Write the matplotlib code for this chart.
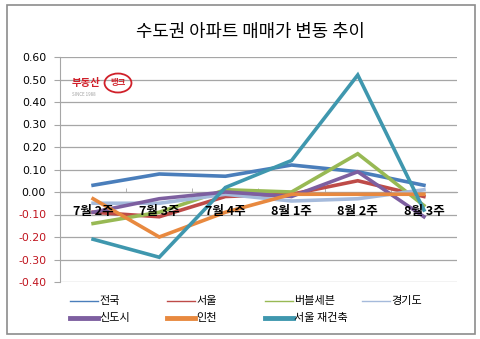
import numpy as np
import matplotlib
matplotlib.use("Agg")
import matplotlib.pyplot as plt
from matplotlib.lines import Line2D
from matplotlib.patches import Rectangle, Circle

plt.rcParams['font.family'] = ['Noto Sans CJK KR', 'DejaVu Sans']

weeks = ["7월 2주", "7월 3주", "7월 4주", "8월 1주", "8월 2주", "8월 3주"]
series_names = ["전국", "서울", "버블세븐", "경기도", "신도시", "인천", "서울 재건축"]
nation = [0.03, 0.08, 0.07, 0.12, 0.09, 0.03]
seoul = [-0.09, -0.11, -0.02, -0.01, 0.05, -0.02]
bubble7 = [-0.14, -0.09, 0.01, 0.00, 0.17, -0.06]
gyeonggi = [-0.05, -0.05, -0.01, -0.04, -0.03, 0.01]
newtown = [-0.09, -0.03, 0.00, -0.02, 0.09, -0.11]
incheon = [-0.03, -0.20, -0.09, -0.01, -0.01, -0.01]
seoul_rebuild = [-0.21, -0.29, 0.02, 0.14, 0.52, -0.08]
yticks = [0.6, 0.5, 0.4, 0.3, 0.2, 0.1, 0.0, -0.1, -0.2, -0.3, -0.4]

values = [nation, seoul, bubble7, gyeonggi, newtown, incheon, seoul_rebuild]
colors = ["#4A7EBB", "#BE4B48", "#98B954", "#A5BADB", "#7D5FA0", "#E8893F", "#3F97AE"]
legend_lw = [1, 1, 1, 1, 3.5, 3.5, 3.5]

fig = plt.figure(figsize=(4.81, 3.39), dpi=100)
fig.patch.set_facecolor("white")
fig.add_artist(Rectangle((7 / 481, 5 / 339), 468 / 481, 329 / 339, transform=fig.transFigure,
                         fill=False, edgecolor="#8C8C8C", lw=1.2))

ax = fig.add_axes([60 / 481, 57 / 339, 397 / 481, 225 / 339])
x = np.arange(len(weeks))
for vals, c in zip(values, colors):
    ax.plot(x, vals, color=c, lw=2.6, solid_joinstyle="miter", zorder=3)

ax.set_xlim(-0.5, len(weeks) - 0.5)
ax.set_ylim(-0.4, 0.6)
ax.set_yticks(yticks)
ax.set_yticklabels([f"{v:.2f}" for v in yticks], fontsize=7.8, family="DejaVu Sans")
for lab, v in zip(ax.get_yticklabels(), yticks):
    lab.set_color("#C0141E" if v < 0 else "black")
ax.yaxis.grid(True, color="#A6A6A6", lw=0.9)
ax.set_axisbelow(True)
ax.tick_params(axis="y", length=4, color="#A6A6A6", pad=6, direction="out")

ax.spines["bottom"].set_position(("data", 0))
ax.spines["bottom"].set_color("#A6A6A6")
ax.spines["left"].set_color("#A6A6A6")
ax.spines["top"].set_visible(False)
ax.spines["right"].set_visible(False)
ax.set_xticks(x)
ax.set_xticklabels([])
ax.set_xticks(np.arange(0.5, len(weeks) - 0.5, 1), minor=True)
ax.tick_params(axis="x", which="major", length=0)
ax.tick_params(axis="x", which="minor", length=3, direction="in", color="#A6A6A6")
for xi, w in zip(x, weeks):
    ax.annotate(w, (xi, 0), xytext=(0, -9), textcoords="offset points", ha="center",
                va="top", fontsize=9, fontweight="bold", zorder=5)

fig.text(250 / 481, 1 - 32 / 339, "수도권 아파트 매매가 변동 추이", ha="center", va="center",
         fontsize=12.8)

# logo
fig.text(72 / 481, 1 - 83 / 339, "부동산", color="#D0202A", fontsize=7.5, fontweight="bold",
         ha="left", va="center")
fig.add_artist(Circle((118 / 481, 1 - 83 / 339), 0.028, transform=fig.transFigure,
                      fill=False, edgecolor="#D0202A", lw=1.3))
fig.text(118 / 481, 1 - 83 / 339, "뱅크", color="#D0202A", fontsize=6, fontweight="bold",
         ha="center", va="center")
fig.text(72 / 481, 1 - 94 / 339, "SINCE 1988", color="#A0A0A0", fontsize=3.2,
         ha="left", va="center")

# legend, laid out as in the reference: 4 columns, 2 rows
col_x = [70, 167, 265, 362]
row_y = [301, 318]
for i, (name, c, w) in enumerate(zip(series_names, colors, legend_lw)):
    cx = col_x[i % 4]
    ry = 1 - row_y[i // 4] / 339
    fig.add_artist(Line2D([cx / 481, (cx + 28) / 481], [ry, ry], color=c, lw=w,
                          transform=fig.transFigure))
    fig.text((cx + 29) / 481, ry, name, fontsize=8, ha="left", va="center")

fig.savefig("out.png", dpi=100)
